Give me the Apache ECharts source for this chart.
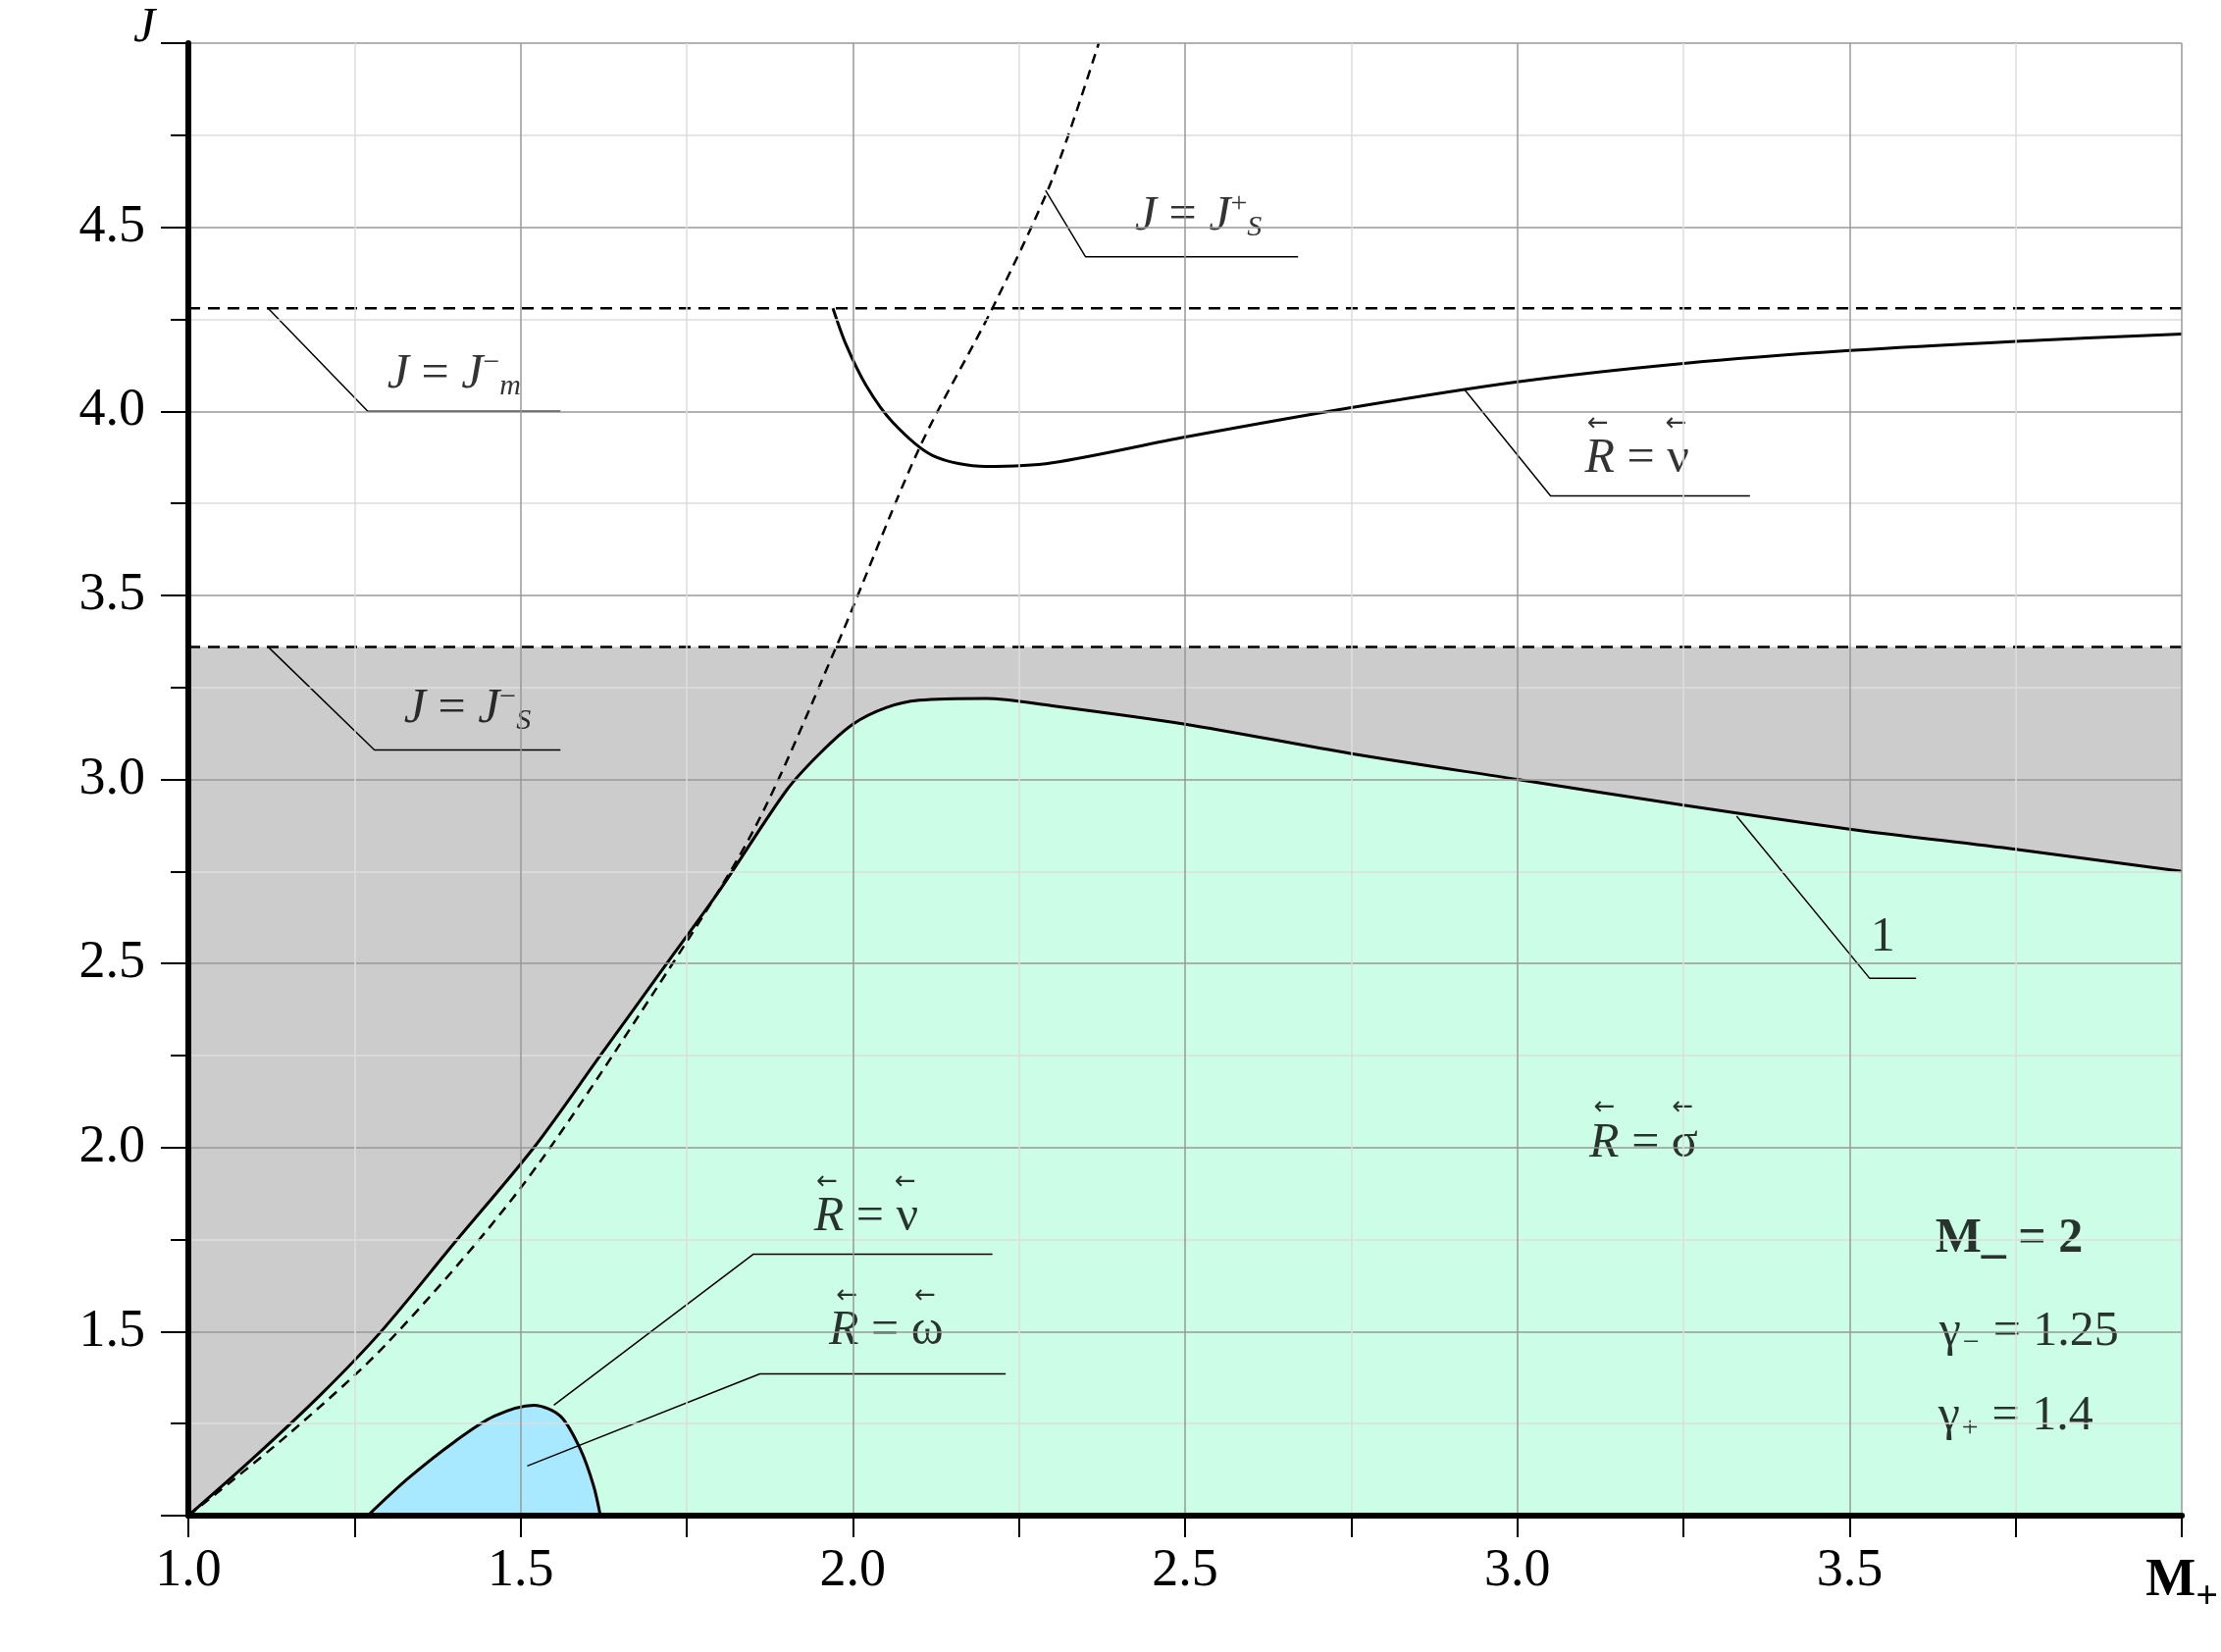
<!DOCTYPE html>
<html><head><meta charset="utf-8">
<script src="https://cdn.jsdelivr.net/npm/echarts@6/dist/echarts.min.js"></script>
<style>html,body{margin:0;background:#fff}#c{width:2264px;height:1684px}</style>
</head><body><div id="c"></div>
<script>
const xTicks = [1.0, 1.5, 2.0, 2.5, 3.0, 3.5];
const yTicks = [1.5, 2.0, 2.5, 3.0, 3.5, 4.0, 4.5];
const jsMinus = 3.36;
const jmMinus = 4.28;
const curve1 = [[1,1],[1.1,1.16],[1.2,1.33],[1.29,1.5],[1.4,1.74],[1.52,2.0],[1.62,2.25],[1.72,2.5],[1.8,2.7],[1.9,2.97],[1.95,3.07],[2.0,3.15],[2.05,3.195],[2.1,3.215],[2.2,3.22],[2.3,3.2],[2.5,3.15],[2.75,3.07],[3.0,3.0],[3.25,2.93],[3.5,2.865],[3.75,2.81],[4.0,2.75]];
const jsPlus = [[1,1],[1.15,1.22],[1.3,1.47],[1.5,1.89],[1.7,2.42],[1.85,2.86],[1.975,3.36],[2.1,3.9],[2.21,4.28],[2.3,4.63],[2.37,5.0]];
const rNuUpper = [[1.97,4.28],[1.99,4.18],[2.02,4.07],[2.06,3.97],[2.12,3.88],[2.2,3.85],[2.3,3.86],[2.5,3.93],[2.75,4.01],[3.0,4.08],[3.25,4.13],[3.5,4.165],[3.75,4.19],[4.0,4.21]];
const bubble = [[1.27,1.0],[1.33,1.1],[1.4,1.2],[1.46,1.27],[1.52,1.3],[1.56,1.27],[1.59,1.18],[1.61,1.08],[1.62,1.0]];
const leaders = [
  [[1.12,4.28],[1.27,4.0],[1.56,4.0]],
  [[1.12,3.36],[1.28,3.08],[1.56,3.08]],
  [[2.29,4.6],[2.35,4.42],[2.67,4.42]],
  [[2.92,4.06],[3.05,3.77],[3.35,3.77]],
  [[3.33,2.9],[3.53,2.46],[3.6,2.46]],
  [[1.55,1.3],[1.85,1.71],[2.21,1.71]],
  [[1.51,1.135],[1.86,1.385],[2.23,1.385]]
];
const AR = '{ar|←}{gap| }{ar|←}\n';
const labels = [
  [1.4,4.1,'{i|J} = {i|J}{sup|−}{sub|m}'],
  [1.42,3.19,'{i|J} = {i|J}{sup|−}{sub|S}'],
  [2.52,4.53,'{i|J} = {i|J}{sup|+}{sub|S}'],
  [3.18,3.9,AR+'{i|R} = ν'],
  [3.55,2.57,'1'],
  [3.19,2.04,AR+'{i|R} = σ'],
  [2.02,1.84,AR+'{i|R} = ν'],
  [2.05,1.53,AR+'{i|R} = ω'],
  [3.74,1.75,'{b|M_ = 2}'],
  [3.77,1.5,'γ{sub|−} = 1.25'],
  [3.75,1.27,'γ{sub|+} = 1.4']
];
const F = 'Liberation Serif';
const rich = {i:{fontStyle:'italic',fontFamily:F,fontSize:50},
  ar:{fontFamily:'DejaVu Sans',fontSize:26,lineHeight:22},gap:{fontSize:50,width:58,lineHeight:22},
  sup:{fontSize:30,fontFamily:F,padding:[0,0,24,0]},sub:{fontSize:30,fontFamily:F,fontStyle:'italic',padding:[24,0,0,0]},
  b:{fontWeight:'bold',fontFamily:F,fontSize:50}};
const series = [
  {type:'line',data:[[1,jsMinus],[4,jsMinus]],symbol:'none',lineStyle:{color:'#000',width:2.5,type:[12,8]},areaStyle:{color:'#cccccc',opacity:1,origin:'start'},z:2},
  {type:'line',data:[[1,jmMinus],[4,jmMinus]],symbol:'none',lineStyle:{color:'#000',width:2.5,type:[12,8]},z:3},
  {type:'line',data:curve1,smooth:0.3,symbol:'none',lineStyle:{color:'#000',width:3},areaStyle:{color:'#ccfde6',opacity:1,origin:'start'},z:3},
  {type:'line',data:bubble,smooth:0.3,symbol:'none',lineStyle:{color:'#000',width:3},areaStyle:{color:'#a8e9ff',opacity:1,origin:'start'},z:4},
  {type:'line',data:jsPlus,smooth:0.3,symbol:'none',lineStyle:{color:'#000',width:2.5,type:[10,7]},z:5},
  {type:'line',data:rNuUpper,smooth:0.3,symbol:'none',lineStyle:{color:'#000',width:3},z:5}
];
leaders.forEach(l=>series.push({type:'line',data:l,symbol:'none',lineStyle:{color:'#000',width:1.5},z:6}));
series.push({type:'scatter',symbolSize:0,z:7,data:labels.map(a=>[a[0],a[1]]),
  label:{show:true,position:'inside',fontFamily:F,fontSize:50,color:'#000',rich:rich,formatter:p=>labels[p.dataIndex][2]}});
const chart = echarts.init(document.getElementById('c'));
chart.setOption({
  animation:false,
  grid:{left:192,right:25,top:44,bottom:139},
  xAxis:{type:'value',min:1,max:4,interval:0.5,z:10,
    axisLine:{show:true,onZero:false,lineStyle:{color:'#000',width:6}},
    axisTick:{show:true,length:22,inside:false,lineStyle:{color:'#000',width:2}},
    minorTick:{show:true,splitNumber:2,length:22,lineStyle:{color:'#000',width:2}},
    splitLine:{show:true,lineStyle:{color:'#999',width:1.5}},
    minorSplitLine:{show:true,lineStyle:{color:'#ddd',width:1.5}},
    axisLabel:{fontFamily:F,fontSize:54,color:'#000',margin:30,
      formatter:v=>v===4?'{m|M}{s|+}':(xTicks.includes(v)?v.toFixed(1):''),
      rich:{m:{fontFamily:F,fontSize:54,fontWeight:'bold'},s:{fontFamily:F,fontSize:40,fontWeight:'bold',padding:[34,0,0,0]}}}},
  yAxis:{type:'value',min:1,max:5,interval:0.5,name:'J',nameLocation:'end',nameGap:-10,z:10,
    nameTextStyle:{fontFamily:F,fontStyle:'italic',fontSize:50,color:'#000',padding:[0,90,0,0]},
    axisLine:{show:true,onZero:false,lineStyle:{color:'#000',width:6}},
    axisTick:{show:true,length:28,lineStyle:{color:'#000',width:2}},
    minorTick:{show:true,splitNumber:2,length:18,lineStyle:{color:'#000',width:2}},
    splitLine:{show:true,lineStyle:{color:'#999',width:1.5}},
    minorSplitLine:{show:true,lineStyle:{color:'#ddd',width:1.5}},
    axisLabel:{fontFamily:F,fontSize:54,color:'#000',margin:44,
      formatter:v=>yTicks.includes(v)?v.toFixed(1):''}},
  series:series
});
</script></body></html>
